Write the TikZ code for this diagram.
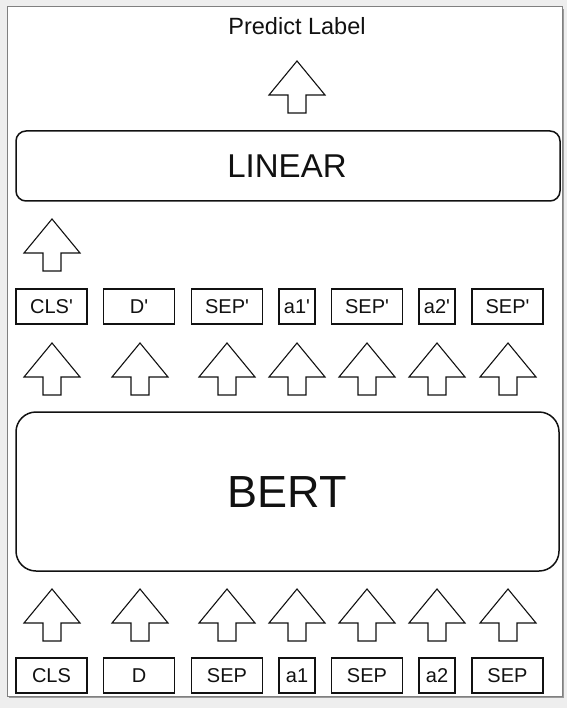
\documentclass[tikz,border=0pt]{standalone}
\usepackage{fontspec}
\setmainfont{Liberation Sans}
\definecolor{bgc}{HTML}{EEEEEE}
\definecolor{framec}{HTML}{808080}
\definecolor{shadowc}{HTML}{9A9A9A}
\definecolor{inkc}{HTML}{111111}
\newcommand{\prm}{\textquotesingle}
\begin{document}
\begin{tikzpicture}[x=1pt,y=-1pt,
  tok/.style={draw=inkc, line width=1.1pt, minimum height=35pt, inner sep=0pt, text=inkc,
    font=\fontsize{20}{24}\selectfont},
  widetok/.style={tok, minimum width=71pt},
  narrowtok/.style={tok, minimum width=36pt},
  block/.style={draw=inkc, line width=1.5pt, inner sep=0pt, text=inkc},
  uparrow/.pic={\draw[draw=inkc, line width=1.1pt, line join=miter, fill=white]
      (0,0) -- (28,34) -- (9,34) -- (9,52) -- (-9,52) -- (-9,34) -- (-28,34) -- cycle;}
]
\useasboundingbox (0,0) rectangle (567,708);
% page background and sheet
\fill[bgc] (0,0) rectangle (567,708);
\fill[shadowc] (9,9) rectangle (564,698);
\filldraw[fill=white, draw=framec, line width=1pt] (7,7) rectangle (562,696);

% output label
\node[text=inkc, inner sep=0pt, font=\fontsize{23.5}{28}\selectfont] (pred) at (297,26.5) {Predict Label};
\pic at (297,61) {uparrow};

% linear layer
\node[block, rounded corners=10pt, minimum width=544pt, minimum height=70pt] (linear) at (288,166) {};
\node[text=inkc, inner sep=0pt, font=\fontsize{33}{40}\selectfont] (lineartxt) at (287,166.5) {LINEAR};
\pic at (52,219) {uparrow};

% output tokens
\node[widetok]   (o1) at (51.5,306.5) {CLS\prm};
\node[widetok]   (o2) at (139,306.5) {D\prm};
\node[widetok]   (o3) at (227,306.5) {SEP\prm};
\node[narrowtok] (o4) at (297,306.5) {a1\prm};
\node[widetok]   (o5) at (367,306.5) {SEP\prm};
\node[narrowtok] (o6) at (437,306.5) {a2\prm};
\node[widetok]   (o7) at (507.5,306.5) {SEP\prm};

\foreach \xx in {52,140,227,297,367,437,508} {
  \pic at (\xx,343) {uparrow};
  \pic at (\xx,589) {uparrow};
}

% BERT
\node[block, rounded corners=20pt, minimum width=543pt, minimum height=159pt] (bert) at (287.5,491.5) {};
\node[text=inkc, inner sep=0pt, font=\fontsize{45}{54}\selectfont] (berttxt) at (287.5,492.5) {BERT};

% input tokens
\node[widetok]   (i1) at (51.5,675.5) {CLS};
\node[widetok]   (i2) at (139,675.5) {D};
\node[widetok]   (i3) at (227,675.5) {SEP};
\node[narrowtok] (i4) at (297,675.5) {a1};
\node[widetok]   (i5) at (367,675.5) {SEP};
\node[narrowtok] (i6) at (437,675.5) {a2};
\node[widetok]   (i7) at (507.5,675.5) {SEP};
\end{tikzpicture}
\end{document}
